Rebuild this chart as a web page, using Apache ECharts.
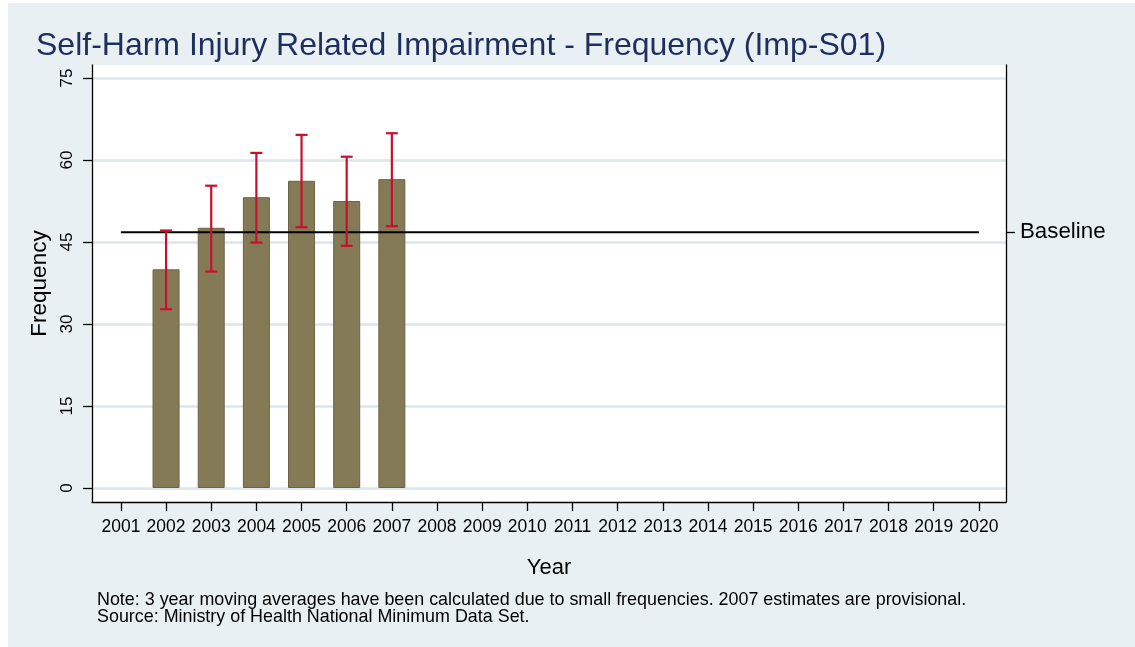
<!DOCTYPE html>
<html>
<head>
<meta charset="utf-8">
<script src="https://cdn.jsdelivr.net/npm/echarts@6/dist/echarts.min.js"></script>
<style>
html,body{margin:0;padding:0;background:#fff;}
#chart{width:1135px;height:647px;}
</style>
</head>
<body>
<div id="chart"></div>
<script>
// ---- data ----
const years = [2001,2002,2003,2004,2005,2006,2007,2008,2009,2010,2011,2012,2013,2014,2015,2016,2017,2018,2019,2020];
const dataYears = [2002,2003,2004,2005,2006,2007];
const frequency = [40.0,47.6,53.2,56.2,52.5,56.5];
const ciLower = [32.7,39.6,44.9,47.7,44.3,47.9];
const ciUpper = [47.1,55.3,61.3,64.6,60.6,64.9];
const baselineValue = 46.8;
const yTicks = [0,15,30,45,60,75];
const titleText = 'Self-Harm Injury Related Impairment - Frequency (Imp-S01)';
const noteLines = ['Note: 3 year moving averages have been calculated due to small frequencies. 2007 estimates are provisional.',
                   'Source: Ministry of Health National Minimum Data Set.'];

const FONT = 'Arial, "Liberation Sans", Helvetica, sans-serif';
const chart = echarts.init(document.getElementById('chart'), null, {renderer:'canvas'});

const barData = dataYears.map((y,i)=>[y, frequency[i]]);
const errData = dataYears.map((y,i)=>[y, ciLower[i], ciUpper[i]]);
const baseData = [[years[0], baselineValue],[years[years.length-1], baselineValue]];

const yMin = -2.56, yMax = 77.38;

const option = {
  backgroundColor: '#e9f0f3',
  animation: false,
  graphic: [
    {type:'rect', left:0, top:0, shape:{width:1135, height:3}, style:{fill:'#ffffff'}, silent:true},
    {type:'rect', left:0, top:0, shape:{width:8, height:647}, style:{fill:'#ffffff'}, silent:true}
  ],
  title: [
    {text: titleText, left: 36, top: 30, padding: 0,
     textStyle:{fontFamily:FONT, fontSize:32, fontWeight:'normal', color:'#1e2f5e'}},
    {text: noteLines.join('\n'), left: 97, top: 591, padding: 0,
     textStyle:{fontFamily:FONT, fontSize:17.9, fontWeight:'normal', color:'#000', lineHeight:17.5}}
  ],
  grid: {left:92, right:129, top:65, bottom:145, show:true, backgroundColor:'#ffffff', borderWidth:0},
  xAxis: {
    type:'value', min: years[0]-0.64, max: years[years.length-1]+0.6,
    name:'Year', nameLocation:'middle', nameGap:55,
    nameTextStyle:{fontFamily:FONT, fontSize:22, color:'#000'},
    axisLine:{show:true, onZero:false, lineStyle:{color:'#000', width:1.3}},
    axisTick:{show:true, length:9, customValues: years, lineStyle:{color:'#000', width:1.3}},
    axisLabel:{customValues: years, formatter: v=>String(v), margin:16,
               fontFamily:FONT, fontSize:17.5, color:'#000'},
    splitLine:{show:false}
  },
  yAxis: [
    {type:'value', position:'left', min:yMin, max:yMax,
     name:'Frequency', nameLocation:'middle', nameGap:32, nameRotate:90,
     nameTextStyle:{fontFamily:FONT, fontSize:22.5, color:'#000'},
     axisLine:{show:true, onZero:false, lineStyle:{color:'#000', width:1.3}},
     axisTick:{show:true, length:9, customValues: yTicks, lineStyle:{color:'#000', width:1.3}},
     axisLabel:{customValues: yTicks, rotate:90, margin:16, fontFamily:FONT, fontSize:17, color:'#000'},
     splitLine:{show:true, lineStyle:{color:'#dbe6ec', width:2.5}}
    },
    {type:'value', position:'right', min:yMin, max:yMax,
     axisLine:{show:true, onZero:false, lineStyle:{color:'#000', width:1.3}},
     axisTick:{show:true, length:9, customValues:[baselineValue], lineStyle:{color:'#000', width:1.3}},
     axisLabel:{customValues:[baselineValue], formatter:()=> 'Baseline', margin:14,
                fontFamily:FONT, fontSize:22.3, color:'#000'},
     splitLine:{show:false}
    }
  ],
  series: [
    {type:'bar', data: barData, barWidth:27, z:2,
     itemStyle:{color:'#857a56', borderColor:'#6c6244', borderWidth:1}},
    {type:'line', data: baseData, symbol:'none', z:3,
     lineStyle:{color:'#000', width:2}},
    {type:'custom', data: errData, z:4,
     renderItem: function(params, api){
       const x = api.value(0);
       const lo = api.coord([x, api.value(1)]);
       const hi = api.coord([x, api.value(2)]);
       const cw = 6;
       const st = {stroke:'#c8102e', lineWidth:2.2};
       return {type:'group', children:[
         {type:'line', shape:{x1:lo[0], y1:lo[1], x2:hi[0], y2:hi[1]}, style:st},
         {type:'line', shape:{x1:lo[0]-cw, y1:lo[1], x2:lo[0]+cw, y2:lo[1]}, style:st},
         {type:'line', shape:{x1:hi[0]-cw, y1:hi[1], x2:hi[0]+cw, y2:hi[1]}, style:st}
       ]};
     }
    }
  ]
};
chart.setOption(option);
</script>
</body>
</html>
